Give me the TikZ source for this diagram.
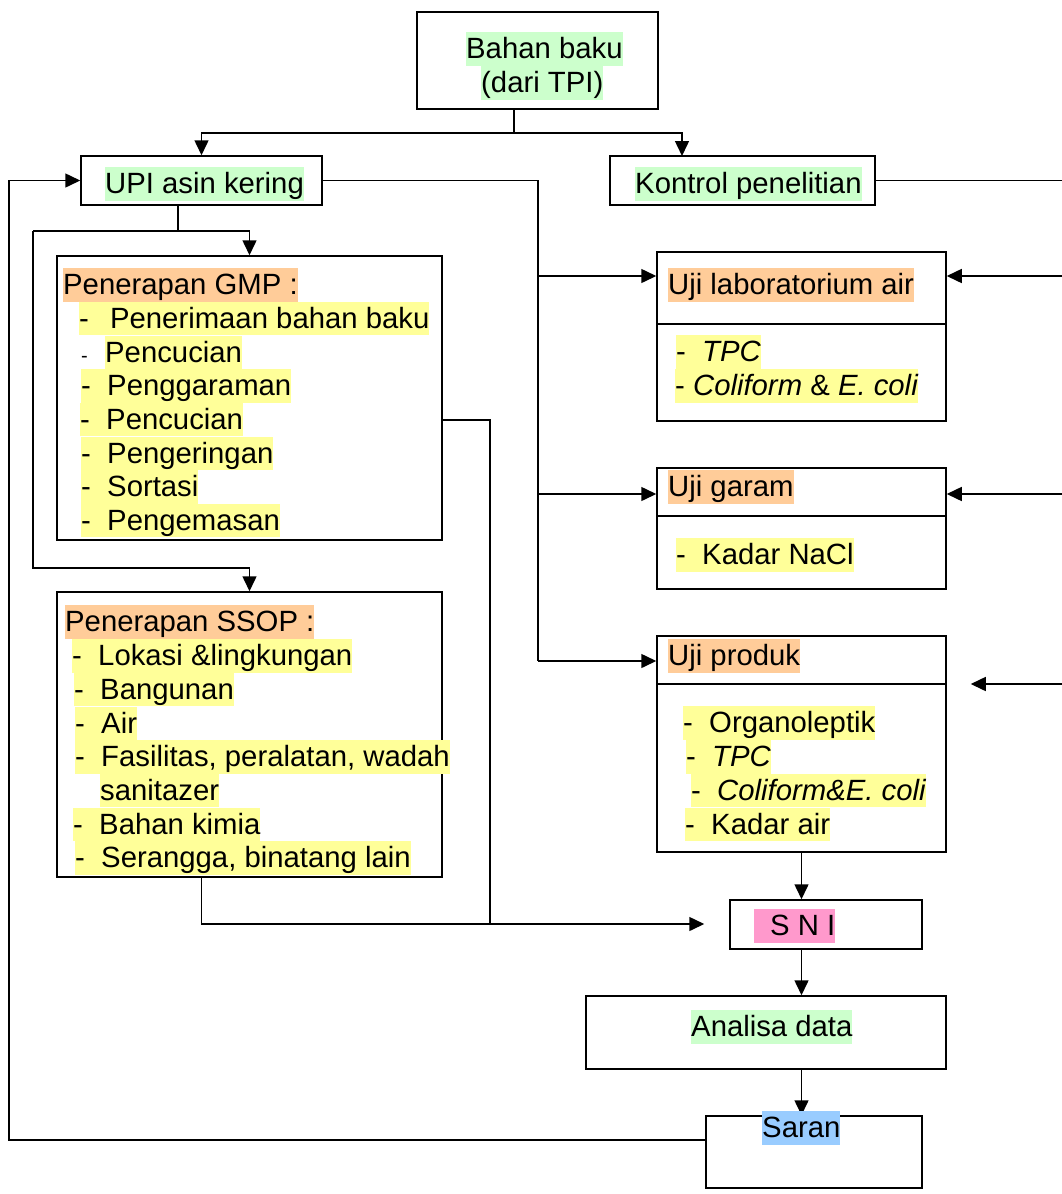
\documentclass[tikz,border=0pt]{standalone}
\usepackage{fontspec}
\setmainfont{Liberation Sans}
\usepackage{tikz}
\usetikzlibrary{arrows.meta}

\definecolor{hlgreen}{RGB}{204,255,204}
\definecolor{hlorange}{RGB}{255,204,153}
\definecolor{hlyellow}{RGB}{255,255,153}
\definecolor{hlpink}{RGB}{255,153,204}
\definecolor{hlblue}{RGB}{153,204,255}

\begin{document}
\begin{tikzpicture}[x=1pt,y=-1pt,
    font=\fontsize{29.3}{34}\selectfont,
    box/.style 2 args={draw, line width=1.5pt, inner sep=0pt, minimum width=#1, minimum height=#2},
    hl/.style={fill=#1, inner sep=0pt, text height=26.5pt, text depth=7pt, anchor=base west},
    line/.style={line width=1.5pt},
    arr/.style={line width=1.5pt, -{Triangle[length=15pt,width=14pt]}}]
      \useasboundingbox (0,0) rectangle (1062,1194);

      %draw the boxes
      \node[box={241pt}{97pt}] (bahan) at (537.5,60.5) {};
      \node[box={241pt}{49pt}] (upi) at (201.5,180.5) {};
      \node[box={265pt}{49pt}] (kontrol) at (742.5,180.5) {};
      \node[box={385pt}{284pt}] (gmp) at (249.5,398) {};
      \node[box={385pt}{285pt}] (ssop) at (249.5,734.5) {};
      \node[box={289pt}{169pt}] (ujilab) at (801.5,336.5) {};
      \node[box={289pt}{121pt}] (ujigaram) at (801.5,528.5) {};
      \node[box={289pt}{216pt}] (ujiproduk) at (801.5,744) {};
      \node[box={192pt}{49pt}] (sni) at (826,924.5) {};
      \node[box={360pt}{73pt}] (analisa) at (766,1032.5) {};
      \node[box={216pt}{72pt}] (saran) at (814,1152) {};

      % dividers in the test boxes
      \draw[line] (ujilab.west |- 0,324) -- (ujilab.east |- 0,324);
      \draw[line] (ujigaram.west |- 0,516) -- (ujigaram.east |- 0,516);
      \draw[line] (ujiproduk.west |- 0,684) -- (ujiproduk.east |- 0,684);

      % bahan baku splits to upi and kontrol
      \coordinate (split1) at (514,133);
      \coordinate (k1) at (682,156);
      \draw[line] (bahan.south -| split1) -- (split1);
      \draw[arr] (split1) -| (upi.north);
      \draw[arr] (split1) -| (k1);

      % upi to the three tests
      \coordinate (l1) at (538,276);
      \coordinate (l2) at (538,494);
      \coordinate (l3) at (538,661);
      \draw[line] (upi.east) -- (upi.east -| l1) -- (l3);
      \draw[arr] (l1) -- (l1 -| ujilab.west);
      \draw[arr] (l2) -- (l2 -| ujigaram.west);
      \draw[arr] (l3) -- (l3 -| ujiproduk.west);

      % kontrol to the three tests
      \coordinate (r1) at (1064,276);
      \coordinate (r2) at (1064,494);
      \coordinate (r3) at (1064,684);
      \draw[line] (kontrol.east) -- (kontrol.east -| r1) -- (r3);
      \draw[arr] (r1) -- (r1 -| ujilab.east);
      \draw[arr] (r2) -- (r2 -| ujigaram.east);
      \draw[arr, shorten >=24pt] (r3) -- (r3 -| ujiproduk.east);

      % upi to gmp and ssop
      \coordinate (s1) at (178,231);
      \coordinate (lb) at (33,231);
      \draw[line] (upi.south -| s1) -- (s1);
      \draw[arr] (lb) -| (gmp.north);
      \draw[arr] (lb) -- (33,568) -| (ssop.north);

      % gmp and ssop to sni
      \coordinate (g1) at (490,420);
      \coordinate (g2) at (490,924);
      \coordinate (g3) at (201.7,924);
      \draw[line] (g1 -| gmp.east) -- (g1) -- (g2);
      \draw[arr, shorten >=25pt] (ssop.south -| g3) -- (g3) -- (g3 -| sni.west);

      % down the right column
      \draw[arr] (ujiproduk.south) -- (ujiproduk.south |- sni.north);
      \draw[arr] (sni.south -| ujiproduk.south) -- (analisa.north -| ujiproduk.south);
      \draw[arr] (analisa.south -| ujiproduk.south) -- (saran.north -| ujiproduk.south);

      % saran back to upi
      \coordinate (fb) at (9,1140);
      \draw[arr] (saran.west |- fb) -- (fb) |- (upi.west);

      %write bahan baku, upi, kontrol
      \node[hl=hlgreen] (tbahan1) at (466,58.5) {Bahan baku};
      \node[hl=hlgreen] (tbahan2) at (481,92.5) {(dari TPI)};
      \node[hl=hlgreen] (tupi) at (105,193.5) {UPI asin kering};
      \node[hl=hlgreen] (tkontrol) at (635,193.5) {Kontrol penelitian};

      %write gmp
      \node[hl=hlorange] (tgmp) at (63,294.5) {Penerapan GMP :\ };
      \node[hl=hlyellow] (tgmp1) at (79,328) {-\ \ \,Penerimaan bahan baku};
      \node[anchor=base west, inner sep=0pt, font=\fontsize{20}{24}\selectfont] (tgmpdash) at (81,362) {-};
      \node[hl=hlyellow] (tgmp2) at (105,362) {Pencucian};
      \node[hl=hlyellow] (tgmp3) at (81,395.5) {-\ \ Penggaraman};
      \node[hl=hlyellow] (tgmp4) at (80,429) {-\ \ Pencucian};
      \node[hl=hlyellow] (tgmp5) at (81,463) {-\ \ Pengeringan};
      \node[hl=hlyellow] (tgmp6) at (81,496.5) {-\ \ Sortasi};
      \node[hl=hlyellow] (tgmp7) at (81,530) {-\ \ Pengemasan};

      %write ssop
      \node[hl=hlorange] (tssop) at (65,631.5) {Penerapan SSOP :\ };
      \node[hl=hlyellow] (tssop1) at (72,665.5) {-\ \ Lokasi \&lingkungan};
      \node[hl=hlyellow] (tssop2) at (74,699) {-\ \ Bangunan};
      \node[hl=hlyellow] (tssop3) at (75,733) {-\ \ Air};
      \node[hl=hlyellow] (tssop4) at (75,766.5) {-\ \ Fasilitas, peralatan, wadah};
      \node[hl=hlyellow] (tssop5) at (100,800) {sanitazer};
      \node[hl=hlyellow] (tssop6) at (73,834) {-\ \ Bahan kimia};
      \node[hl=hlyellow] (tssop7) at (75,867.5) {-\ \ Serangga, binatang lain};

      %write the tests
      \node[hl=hlorange] (tlab) at (668,294.5) {Uji laboratorium air};
      \node[hl=hlyellow] (tlab1) at (676,361.5) {-\ \ \textit{TPC}};
      \node[hl=hlyellow] (tlab2) at (675,395.5) {- \textit{Coliform} \& \textit{E. coli}};
      \node[hl=hlorange] (tgaram) at (668,496.5) {Uji garam};
      \node[hl=hlyellow] (tgaram1) at (676,564.5) {-\ \ Kadar NaCl};
      \node[hl=hlorange] (tproduk) at (668,665.5) {Uji produk};
      \node[hl=hlyellow] (tproduk1) at (683,732.5) {-\ \ Organoleptik};
      \node[hl=hlyellow] (tproduk2) at (686,766.5) {-\ \ \textit{TPC}};
      \node[hl=hlyellow] (tproduk3) at (691,800) {-\ \ \textit{Coliform\&E. coli}};
      \node[hl=hlyellow] (tproduk4) at (685,834) {-\ \ Kadar air};

      %write sni, analisa, saran
      \node[hl=hlpink] (tsni) at (754,935.5) {\hspace*{16pt}S N I};
      \node[hl=hlgreen] (tanalisa) at (691,1036.5) {Analisa data};
      \node[hl=hlblue] (tsaran) at (762,1137.5) {Saran};
\end{tikzpicture}
\end{document}
